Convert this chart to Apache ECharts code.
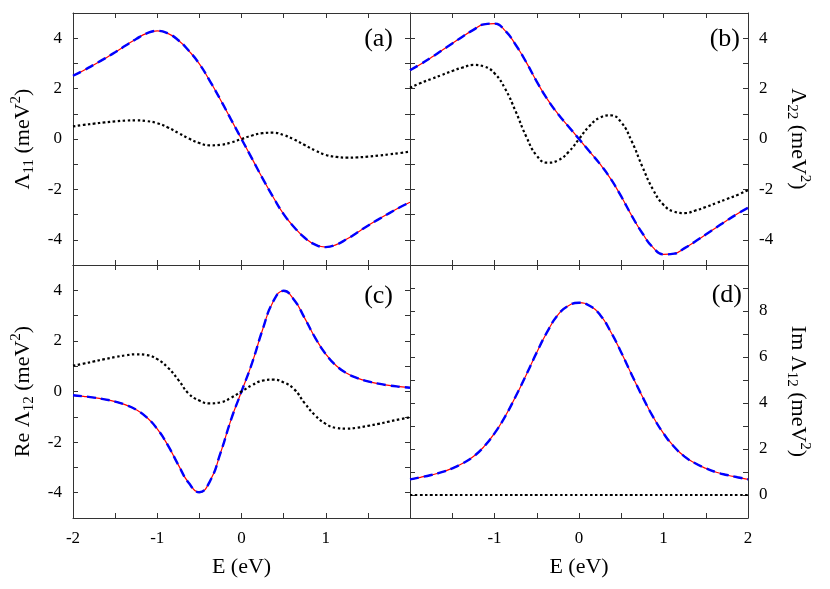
<!DOCTYPE html>
<html>
<head>
<meta charset="utf-8">
<title>Lambda spectra</title>
<script src="https://cdn.jsdelivr.net/npm/echarts@6/dist/echarts.min.js"></script>
<style>
  html, body { margin: 0; padding: 0; background: #fff; }
  #chart { width: 830px; height: 589px; }
</style>
</head>
<body>
<div id="chart"></div>
<script>
// energy grid (eV)
var energy = [-2, -1.875, -1.75, -1.625, -1.5, -1.375, -1.25, -1.125, -1, -0.875, -0.75, -0.625, -0.5, -0.375, -0.25, -0.125, 0,
  0.125, 0.25, 0.375, 0.5, 0.625, 0.75, 0.875, 1, 1.125, 1.25, 1.375, 1.5, 1.625, 1.75, 1.875, 2];

// (a) Lambda_11 : full (red / blue dashed) and dotted curve
var lam11 = [2.51, 2.72, 2.95, 3.19, 3.44, 3.71, 3.97, 4.19, 4.29, 4.19, 3.92, 3.50, 2.98, 2.30, 1.56, 0.78, 0,
  -0.78, -1.56, -2.30, -2.98, -3.50, -3.92, -4.19, -4.29, -4.19, -3.97, -3.71, -3.44, -3.19, -2.95, -2.72, -2.51];
var lam11Dot = [0.50, 0.56, 0.61, 0.66, 0.70, 0.73, 0.74, 0.71, 0.63, 0.46, 0.24, 0.02, -0.16, -0.25, -0.23, -0.14, 0,
  0.14, 0.23, 0.25, 0.16, -0.02, -0.24, -0.46, -0.63, -0.71, -0.74, -0.73, -0.70, -0.66, -0.61, -0.56, -0.50];

// (b) Lambda_22
var lam22 = [2.73, 2.97, 3.23, 3.51, 3.79, 4.07, 4.33, 4.55, 4.58, 4.30, 3.74, 3.05, 2.28, 1.58, 1.00, 0.50, 0,
  -0.50, -1.00, -1.58, -2.28, -3.05, -3.74, -4.30, -4.58, -4.55, -4.33, -4.07, -3.79, -3.51, -3.23, -2.97, -2.73];
var lam22Dot = [2.03, 2.22, 2.38, 2.54, 2.70, 2.84, 2.94, 2.88, 2.61, 2.00, 1.10, 0.10, -0.66, -0.94, -0.85, -0.52, 0,
  0.52, 0.85, 0.94, 0.66, -0.10, -1.10, -2.00, -2.61, -2.88, -2.94, -2.84, -2.70, -2.54, -2.38, -2.22, -2.03];

// (c) Re Lambda_12
var reLam12 = [-0.15, -0.19, -0.24, -0.31, -0.40, -0.53, -0.72, -1.02, -1.48, -2.12, -2.90, -3.62, -3.98, -3.55, -2.44, -1.12, 0,
  1.12, 2.44, 3.55, 3.98, 3.62, 2.90, 2.12, 1.48, 1.02, 0.72, 0.53, 0.40, 0.31, 0.24, 0.19, 0.15];
var reLam12Dot = [1.02, 1.10, 1.19, 1.28, 1.36, 1.43, 1.47, 1.44, 1.28, 0.95, 0.46, -0.09, -0.36, -0.47, -0.43, -0.25, 0,
  0.25, 0.43, 0.47, 0.36, 0.09, -0.46, -0.95, -1.28, -1.44, -1.47, -1.43, -1.36, -1.28, -1.19, -1.10, -1.02];

// (d) Im Lambda_12
var imLam12 = [0.68, 0.77, 0.87, 0.99, 1.16, 1.38, 1.67, 2.10, 2.68, 3.41, 4.28, 5.22, 6.20, 7.10, 7.83, 8.23, 8.36,
  8.23, 7.83, 7.10, 6.20, 5.22, 4.28, 3.41, 2.68, 2.10, 1.67, 1.38, 1.16, 0.99, 0.87, 0.77, 0.68];
var imLam12Dot = [0, 0, 0, 0, 0, 0, 0, 0, 0, 0, 0, 0, 0, 0, 0, 0, 0,
  0, 0, 0, 0, 0, 0, 0, 0, 0, 0, 0, 0, 0, 0, 0, 0];

// tick labels
var xLabelsLeft = [-2, -1, 0, 1];
var xLabelsRight = [-1, 0, 1, 2];
var yLabels = [-4, -2, 0, 2, 4];
var yLabelsIm = [0, 2, 4, 6, 8];

var FONT = 'Liberation Serif';
var LINE = '#333';

var nameRich = {
  t: { fontFamily: FONT, fontSize: 22, color: '#000', lineHeight: 28 },
  s: { fontFamily: FONT, fontSize: 15, color: '#000', verticalAlign: 'bottom' },
  p: { fontFamily: FONT, fontSize: 15, color: '#000', verticalAlign: 'top' }
};

function labelFormatter(labels) {
  return function (v) {
    return labels && labels.indexOf(v) >= 0 ? String(v) : '';
  };
}

function xAxis(grid, pos, labels) {
  return {
    type: 'value',
    gridIndex: grid,
    position: pos,
    min: -2,
    max: 2,
    interval: 0.5,
    name: labels ? 'E (eV)' : '',
    nameLocation: 'middle',
    nameGap: 38,
    nameTextStyle: { fontFamily: FONT, fontSize: 22, color: '#000' },
    axisLine: { show: true, onZero: false, lineStyle: { color: LINE, width: 1 } },
    axisTick: { show: true, inside: true, length: 5, lineStyle: { color: LINE } },
    axisLabel: { show: !!labels, margin: 12, fontFamily: FONT, fontSize: 17, color: '#000', formatter: labelFormatter(labels) },
    splitLine: { show: false }
  };
}

function yAxis(grid, pos, min, max, labels, name) {
  return {
    type: 'value',
    gridIndex: grid,
    position: pos,
    min: min,
    max: max,
    interval: 1,
    name: name || '',
    nameLocation: 'middle',
    nameRotate: pos === 'right' ? -90 : 90,
    nameGap: 36,
    nameTextStyle: { fontFamily: FONT, fontSize: 22, color: '#000', rich: nameRich },
    axisLine: { show: true, onZero: false, lineStyle: { color: LINE, width: 1 } },
    axisTick: { show: true, inside: true, length: 5, lineStyle: { color: LINE } },
    axisLabel: { show: !!labels, margin: 11, fontFamily: FONT, fontSize: 17, color: '#000', formatter: labelFormatter(labels) },
    splitLine: { show: false }
  };
}

function pairs(vals) {
  return energy.map(function (e, i) { return [e, vals[i]]; });
}

function curves(grid, full, dot) {
  var base = { type: 'line', xAxisIndex: grid * 2, yAxisIndex: grid * 2, showSymbol: false, symbol: 'none', smooth: 0.5, silent: true };
  return [
    Object.assign({}, base, { data: pairs(full), lineStyle: { color: '#ff0000', width: 1.2 } }),
    Object.assign({}, base, { data: pairs(full), lineStyle: { color: '#0000ff', width: 2.4, type: [9, 5] } }),
    Object.assign({}, base, { data: pairs(dot), lineStyle: { color: '#000', width: 2.2, type: [2.5, 2.5] } })
  ];
}

function panelLabel(text, right, top) {
  return { text: text, right: right, top: top, padding: 0,
    textStyle: { fontFamily: FONT, fontSize: 26, fontWeight: 'normal', color: '#000' } };
}

var chart = echarts.init(document.getElementById('chart'));

chart.setOption({
  animation: false,
  backgroundColor: '#fff',
  title: [
    panelLabel('(a)', 437, 26),
    panelLabel('(b)', 90, 26),
    panelLabel('(c)', 437, 283),
    panelLabel('(d)', 88, 282)
  ],
  grid: [
    { left: 73, top: 13, width: 337, height: 252, outerBoundsMode: 'none' },
    { left: 410, top: 13, width: 338, height: 252, outerBoundsMode: 'none' },
    { left: 73, top: 265, width: 337, height: 253, outerBoundsMode: 'none' },
    { left: 410, top: 265, width: 338, height: 253, outerBoundsMode: 'none' }
  ],
  xAxis: [
    xAxis(0, 'bottom', null), xAxis(0, 'top', null),
    xAxis(1, 'bottom', null), xAxis(1, 'top', null),
    xAxis(2, 'bottom', xLabelsLeft), xAxis(2, 'top', null),
    xAxis(3, 'bottom', xLabelsRight), xAxis(3, 'top', null)
  ],
  yAxis: [
    yAxis(0, 'left', -5, 5, yLabels, '{t|Λ}{s|11}{t| (meV}{p|2}{t|)}'), yAxis(0, 'right', -5, 5, null),
    yAxis(1, 'right', -5, 5, yLabels, '{t|Λ}{s|22}{t| (meV}{p|2}{t|)}'), yAxis(1, 'left', -5, 5, null),
    yAxis(2, 'left', -5, 5, yLabels, '{t|Re Λ}{s|12}{t| (meV}{p|2}{t|)}'), yAxis(2, 'right', -5, 5, null),
    yAxis(3, 'right', -1, 10, yLabelsIm, '{t|Im Λ}{s|12}{t| (meV}{p|2}{t|)}'), yAxis(3, 'left', -1, 10, null)
  ],
  series: [].concat(
    curves(0, lam11, lam11Dot),
    curves(1, lam22, lam22Dot),
    curves(2, reLam12, reLam12Dot),
    curves(3, imLam12, imLam12Dot)
  )
});
</script>
</body>
</html>
